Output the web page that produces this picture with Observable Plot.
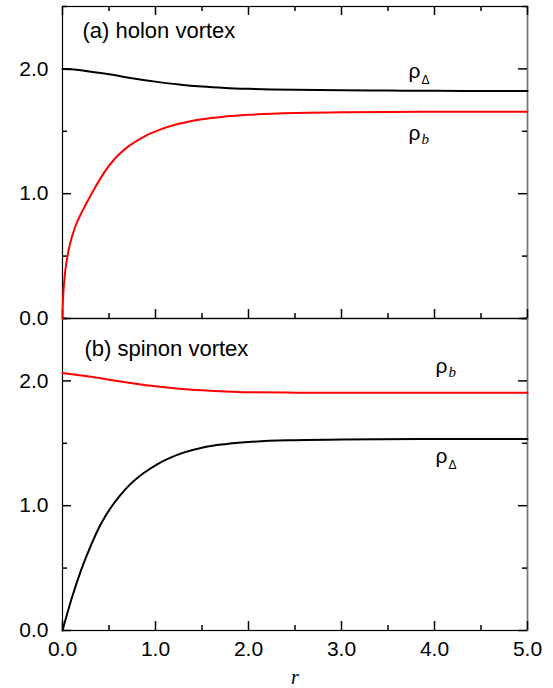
<!DOCTYPE html>
<html>
<head>
<meta charset="utf-8">
<script src="https://cdn.jsdelivr.net/npm/d3@7"></script>
<script src="https://cdn.jsdelivr.net/npm/@observablehq/plot@0.6"></script>
<style>
  html, body { margin: 0; padding: 0; background: #fff; }
</style>
</head>
<body>
<div id="chart"></div>
<script>
// ---- data ----
const panels = ["a", "b"];
const panelTitles = ["(a) holon vortex", "(b) spinon vortex"];

// (a) holon vortex
const rA_delta = [0, 0.1, 0.25, 0.5, 0.75, 1.0, 1.25, 1.5, 1.75, 2.0, 2.5, 3.0, 3.5, 4.0, 4.5, 5.0];
const vA_delta = [2.0, 1.997, 1.984, 1.957, 1.925, 1.898, 1.875, 1.858, 1.847, 1.840, 1.832, 1.828, 1.826, 1.824, 1.823, 1.822];
const rA_b = [0, 0.002, 0.005, 0.011, 0.018, 0.029, 0.045, 0.065, 0.08, 0.10, 0.137, 0.183, 0.245, 0.335, 0.442, 0.55, 0.695, 0.874, 1.054, 1.25, 1.5, 1.75, 2.0, 2.5, 3.0, 3.5, 4.0, 5.0];
const vA_b = [0, 0.09, 0.145, 0.225, 0.29, 0.375, 0.46, 0.545, 0.595, 0.65, 0.735, 0.815, 0.905, 1.029, 1.163, 1.27, 1.371, 1.456, 1.515, 1.56, 1.597, 1.618, 1.632, 1.647, 1.652, 1.655, 1.656, 1.657];

// (b) spinon vortex
const rB_b = [0, 0.25, 0.5, 0.75, 1.0, 1.25, 1.5, 1.75, 2.0, 2.5, 3.0, 4.0, 5.0];
const vB_b = [2.064, 2.04, 2.01, 1.982, 1.957, 1.938, 1.925, 1.915, 1.909, 1.906, 1.905, 1.905, 1.905];
const rB_delta = [0, 0.1, 0.198, 0.299, 0.407, 0.515, 0.622, 0.73, 0.874, 1.018, 1.162, 1.3, 1.5, 1.75, 2.0, 2.5, 3.0, 4.0, 5.0];
const vB_delta = [0, 0.26, 0.48, 0.67, 0.845, 0.98, 1.085, 1.173, 1.262, 1.332, 1.385, 1.425, 1.465, 1.493, 1.51, 1.525, 1.531, 1.534, 1.535];

// curve labels (ρ + subscript), anchored at baseline-left in data units
const labelPanel = ["a", "a", "b", "b"];
const labelSub = ["Δ", "b", "b", "Δ"];
const labelR = [3.72, 3.72, 4.01, 4.01];
const labelV = [1.93, 1.434, 2.06, 1.346];

const xTicksMajor = [0, 1, 2, 3, 4, 5];
const xTicksMinor = [0.5, 1.5, 2.5, 3.5, 4.5];
const yTicksMajor = [0, 1, 2];
const yTicksMinor = [0.5, 1.5, 2.5];

const seriesColor = { delta: "#000000", b: "#ff0000" };

// ---- build rows ----
function rows(panel, series, rs, vs) {
  return rs.map((r, i) => ({ panel, series, r, v: vs[i] }));
}
const lineData = [
  ...rows("a", "delta", rA_delta, vA_delta),
  ...rows("a", "b", rA_b, vA_b),
  ...rows("b", "b", rB_b, vB_b),
  ...rows("b", "delta", rB_delta, vB_delta)
];
const labels = labelPanel.map((p, i) => ({ panel: p, sub: labelSub[i], r: labelR[i], v: labelV[i] }));
const titles = panels.map((p, i) => ({ panel: p, title: panelTitles[i] }));

const sans = "Liberation Sans, Arial, Helvetica, sans-serif";
const serif = "Liberation Serif, Times New Roman, serif";

// layout
const W = 553, H = 688, mL = 62, mR = 26, mT = 6, mB = 58;
const plotW = W - mL - mR;
const facetH = (H - mT - mB) / panels.length;

// inward tick marks as short rules hugging the frame edges
function ticksX(values, len, edge, facetAnchor) {
  return Plot.ruleX(values, {
    x: d => d, stroke: "#000", strokeWidth: 1.5, facetAnchor,
    insetTop: edge === "bottom" ? facetH - len : 0,
    insetBottom: edge === "top" ? facetH - len : 0
  });
}
function ticksY(values, len, edge) {
  return Plot.ruleY(values, {
    y: d => d, stroke: "#000", strokeWidth: 1.5,
    insetRight: edge === "left" ? plotW - len : 0,
    insetLeft: edge === "right" ? plotW - len : 0
  });
}

const chart = Plot.plot({
  width: W,
  height: H,
  marginLeft: mL,
  marginRight: mR,
  marginTop: mT,
  marginBottom: mB,
  style: { fontFamily: sans, fontSize: "20px", background: "#fff", color: "#000" },
  x: { domain: [0, 5] },
  y: { domain: [0, 2.5] },
  fy: { domain: panels, axis: null, padding: 0 },
  marks: [
    // frame
    Plot.frame({ stroke: "#000", strokeWidth: 1.2 }),
    Plot.frame({ anchor: "right", stroke: "#777", strokeWidth: 1.5 }),
    // inward ticks
    ticksX(xTicksMajor, 9, "bottom", null),
    ticksX(xTicksMinor, 5, "bottom", null),
    ticksX(xTicksMajor, 9, "top", "top"),
    ticksX(xTicksMinor, 5, "top", "top"),
    ticksY(yTicksMajor, 9, "left"),
    ticksY(yTicksMinor, 5, "left"),
    ticksY(yTicksMajor, 9, "right"),
    ticksY(yTicksMinor, 5, "right"),
    // tick labels
    Plot.axisX({ anchor: "bottom", ticks: xTicksMajor, tickSize: 0, tickPadding: 11, tickFormat: d3.format(".1f"), label: null, fontSize: 21 }),
    Plot.axisY({ anchor: "left", ticks: yTicksMajor, tickSize: 0, tickPadding: 14, tickFormat: d3.format(".1f"), label: null, fontSize: 21 }),
    // curves
    Plot.line(lineData, {
      x: "r", y: "v", fy: "panel", z: d => d.panel + d.series,
      stroke: d => seriesColor[d.series], strokeWidth: 2, curve: "monotone-x"
    }),
    // panel titles
    Plot.text(titles.filter(d => d.panel === "a"), {
      fy: "panel", text: "title", frameAnchor: "top-left", textAnchor: "start",
      lineAnchor: "top", dx: 20, dy: 16, fontSize: 22
    }),
    Plot.text(titles.filter(d => d.panel === "b"), {
      fy: "panel", text: "title", frameAnchor: "top-left", textAnchor: "start",
      lineAnchor: "top", dx: 22, dy: 22, fontSize: 22
    }),
    // curve labels: rho
    Plot.text(labels, {
      x: "r", y: "v", fy: "panel", text: () => "ρ", textAnchor: "start",
      lineAnchor: "bottom", fontSize: 21
    }),
    // subscripts
    Plot.text(labels.filter(d => d.sub === "Δ"), {
      x: "r", y: "v", fy: "panel", text: "sub", textAnchor: "start",
      lineAnchor: "bottom", dx: 13, dy: 6, fontSize: 12
    }),
    Plot.text(labels.filter(d => d.sub === "b"), {
      x: "r", y: "v", fy: "panel", text: "sub", textAnchor: "start",
      lineAnchor: "bottom", dx: 13, dy: 4, fontSize: 15, fontStyle: "italic", fontFamily: serif
    }),
    // x axis label
    Plot.text([{ panel: "b", t: "r" }], {
      fy: "panel", text: "t", frameAnchor: "bottom", lineAnchor: "bottom",
      dy: 53, fontSize: 20, fontStyle: "italic", fontFamily: serif
    })
  ]
});

document.getElementById("chart").appendChild(chart);
</script>
</body>
</html>
